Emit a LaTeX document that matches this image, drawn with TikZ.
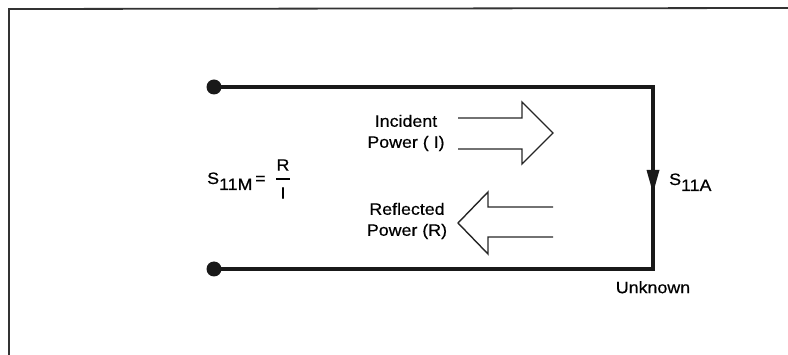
\documentclass[tikz,border=0pt]{standalone}
\usepackage{fontspec}
\setmainfont{Liberation Sans}[FakeStretch=1.08,FakeBold=0.5]
\begin{document}
\begin{tikzpicture}[x=1pt,y=-1pt,
  wire/.style={line width=3.4pt,black!90},
  frame/.style={line width=1.8pt,black!80},
  hollow/.style={line width=1.4pt,black!85,line join=miter},
  lbl/.style={inner sep=0pt,align=center,font=\fontsize{16.5}{21}\selectfont},
  dot/.style={circle,fill=black!90,inner sep=0pt,minimum size=15pt}]
\useasboundingbox (0,0) rectangle (788,355);
% frame
\coordinate (f0) at (9,355);
\coordinate (f1) at (9,9);
\coordinate (f2) at (788,8);
\draw[frame] (f0) -- (f1) -- (f2);
% wire
\node[dot] (d1) at (214,87) {};
\node[dot] (d2) at (214,269) {};
\coordinate (c1) at (653,87);
\coordinate (c2) at (653,269);
\draw[wire,line join=miter] (d1.center) -- (c1) -- (c2) -- (d2.center);
% downward arrowhead on right wire
\coordinate (ah) at (653,193);
\fill[black!90] (ah) -- ++(-6.5,-23) -- ++(13,0) -- cycle;
% incident hollow arrow
\draw[hollow] (458,118) -- (522,118) -- (522,102) -- (553,133) -- (522,164) -- (522,149) -- (458,149);
% reflected hollow arrow
\draw[hollow] (553,207) -- (488,207) -- (488,192) -- (458,223) -- (488,254) -- (488,237) -- (553,237);
% labels
\node[lbl] (inc) at (406,133) {Incident\\Power ( I)};
\node[lbl] (refl) at (407,221) {Reflected\\Power (R)};
\node[lbl,anchor=base west] (s11a) at (669,185) {S\raisebox{-6pt}{11A}};
\node[lbl,anchor=north] (unk) at (653,281) {Unknown};
\node[lbl,anchor=base west] (s11m) at (207,184) {S\raisebox{-6pt}{11M}\,=};
\node[lbl] (rnum) at (283,165) {R};
\node[lbl] (iden) at (283,193) {I};
\draw[line width=1.2pt] (276,179) -- (290,179);
\end{tikzpicture}
\end{document}
